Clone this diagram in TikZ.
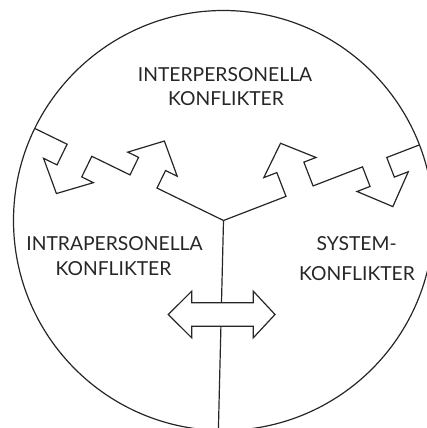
\documentclass[tikz,border=0pt]{standalone}
\usepackage{fontspec}
\setmainfont{Lato}

\begin{document}
\begin{tikzpicture}[x=1pt, y=1pt,
  border/.style={line width=1.2pt, draw=black!85, line join=miter},
  txt/.style={anchor=base, inner sep=0pt, text=black!85, font=\fontsize{19.3}{23}\selectfont}]
\useasboundingbox (0,0) rectangle (427,-428);
\coordinate (J) at (223.5,-220.5);

% outer circle, cut at the bottom
\begin{scope}
\clip (0,0) rectangle (427,-428);
\draw[border] (J) circle (210);
\draw[border] (J) -- ++(268.6:210);
\end{scope}

% left boundary with its two arrows
\begin{scope}[shift={(J)}, rotate=154, yscale=-1]
\draw[border] (0,0) -- (74,0) -- (74,19.5) -- (61,19.5) -- (88,45.5) -- (116,19.5) -- (104,19.5) -- (104,0)
  -- (146.5,0) -- (146.5,-23) -- (133.5,-23) -- (162,-49) -- (189,-23) -- (174,-23) -- (174,0) -- (210,0);
\end{scope}

% right boundary with its two arrows
\begin{scope}[shift={(J)}, rotate=21.1]
\draw[border] (0,0) -- (67,0) -- (67,25.5) -- (53,25.5) -- (81,51.5) -- (109,25.5) -- (96,25.5) -- (96,0)
  -- (149,0) -- (149,-21) -- (135,-21) -- (163,-48) -- (190,-21) -- (175,-21) -- (175,0) -- (210,0);
\end{scope}

% double arrow across the lower boundary
\draw[border, fill=white] (168.3,-314.5) -- (191.7,-291.2) -- (191.7,-302.8) -- (253.3,-302.8) -- (253.3,-291.2)
  -- (275,-314.5) -- (253.3,-337.8) -- (253.3,-326.2) -- (191.7,-326.2) -- (191.7,-337.8) -- cycle;

\node[txt] (inter1) at (225,-81.7) {INTERPERSONELLA};
\node[txt] (inter2) at (226,-105) {KONFLIKTER};
\node[txt] (intra1) at (114.5,-250) {INTRAPERSONELLA};
\node[txt] (intra2) at (113.5,-275) {KONFLIKTER};
\node[txt] (sys1) at (356.7,-250) {SYSTEM-};
\node[txt] (sys2) at (357,-280.5) {KONFLIKTER};
\end{tikzpicture}
\end{document}
